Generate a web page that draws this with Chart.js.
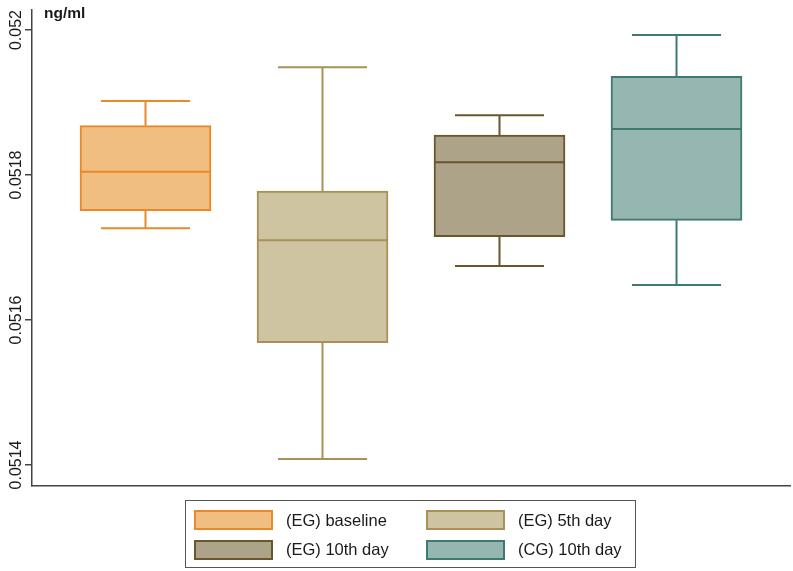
<!DOCTYPE html>
<html>
<head>
<meta charset="utf-8">
<script src="https://cdn.jsdelivr.net/npm/chart.js@4"></script>
<style>
  html, body { margin: 0; padding: 0; background: #fff; }
  #wrap { position: relative; width: 793px; height: 571px; font-family: "Liberation Sans", Arial, sans-serif; }
  #legend { position: absolute; left: 185px; top: 500px; width: 449px; height: 66px; border: 1px solid #555; box-sizing: content-box; }
  .item { position: absolute; display: flex; align-items: center; height: 20px; }
  .swatch { width: 75px; height: 16px; border: 2px solid; margin-right: 13px; }
  .item span { font-size: 16.5px; color: #1a1a1a; white-space: nowrap; }
</style>
</head>
<body>
<div id="wrap">
  <canvas id="boxChart" width="793" height="571"></canvas>
  <div id="legend"></div>
</div>
<script>
// groups and box plot values (ng/ml)
const categories = ['(EG) baseline', '(EG) 5th day', '(EG) 10th day', '(CG) 10th day'];
const whiskerLow = [0.0517265, 0.0514083, 0.0516745, 0.0516483];
const q1 = [0.0517508, 0.0515687, 0.0517149, 0.0517375];
const median = [0.0518046, 0.0517099, 0.0518175, 0.0518634];
const q3 = [0.0518680, 0.0517779, 0.0518552, 0.0519361];
const whiskerHigh = [0.0519021, 0.0519486, 0.0518823, 0.0519931];
const yTicks = [0.0514, 0.0516, 0.0518, 0.052];
const yTickLabels = ['0.0514', '0.0516', '0.0518', '0.052'];

const fillColors = ['rgb(240,190,128)', 'rgb(206,196,162)', 'rgb(173,163,137)', 'rgb(150,182,178)'];
const lineColors = ['rgb(234,137,42)', 'rgb(166,146,86)', 'rgb(105,86,44)', 'rgb(62,122,114)'];

const positions = categories.map((c, i) => i + 1);

// medians, whiskers, rotated y labels and unit title
const boxExtras = {
    id: 'boxExtras',
    afterDatasetsDraw(chart) {
        const ctx = chart.ctx;
        const y = chart.scales.y;
        const meta = chart.getDatasetMeta(0);
        meta.data.forEach((bar, i) => {
            const half = bar.width / 2;
            const cap = bar.width * 0.34;
            const top = y.getPixelForValue(q3[i]);
            const bot = y.getPixelForValue(q1[i]);
            const hi = y.getPixelForValue(whiskerHigh[i]);
            const lo = y.getPixelForValue(whiskerLow[i]);
            const med = y.getPixelForValue(median[i]);
            ctx.save();
            ctx.strokeStyle = lineColors[i];
            ctx.lineWidth = 2;
            ctx.beginPath();
            ctx.moveTo(bar.x - half, med); ctx.lineTo(bar.x + half, med);
            ctx.moveTo(bar.x, top); ctx.lineTo(bar.x, hi);
            ctx.moveTo(bar.x - cap, hi); ctx.lineTo(bar.x + cap, hi);
            ctx.moveTo(bar.x, bot); ctx.lineTo(bar.x, lo);
            ctx.moveTo(bar.x - cap, lo); ctx.lineTo(bar.x + cap, lo);
            ctx.stroke();
            ctx.restore();
        });
    },
    afterDraw(chart) {
        const ctx = chart.ctx;
        const y = chart.scales.y;
        ctx.save();
        ctx.fillStyle = '#1a1a1a';
        ctx.font = '16px "Liberation Sans", Arial, sans-serif';
        ctx.textAlign = 'center';
        ctx.textBaseline = 'middle';
        yTicks.forEach((v, i) => {
            ctx.save();
            ctx.translate(17, y.getPixelForValue(v));
            ctx.rotate(-Math.PI / 2);
            ctx.fillText(yTickLabels[i], 0, 0);
            ctx.restore();
        });
        ctx.font = 'bold 15.5px "Liberation Sans", Arial, sans-serif';
        ctx.textAlign = 'left';
        ctx.fillText('ng/ml', 44, 13.5);
        ctx.restore();
    }
};

const chart = new Chart(document.getElementById('boxChart'), {
    type: 'bar',
    data: {
        datasets: [{
            data: positions.map((p, i) => ({ x: p, y: [q1[i], q3[i]] })),
            backgroundColor: fillColors,
            borderColor: lineColors,
            borderWidth: 2,
            borderSkipped: false,
            barThickness: 131,
            grouped: false
        }]
    },
    options: {
        responsive: false,
        animation: false,
        layout: { padding: { top: 10, right: 3, bottom: 85, left: 0 } },
        plugins: {
            legend: { display: false },
            tooltip: { enabled: false }
        },
        scales: {
            x: {
                type: 'linear',
                offset: false,
                min: 0.3588,
                max: 4.6412,
                grid: { display: false },
                ticks: { display: false },
                border: { display: true, color: '#444', width: 1.5 },
                afterFit: s => { s.height = 0; }
            },
            y: {
                min: 0.051371,
                max: 0.0520276,
                grid: { display: true, drawOnChartArea: false, drawTicks: true, tickLength: 7, color: '#444', lineWidth: 1.5 },
                ticks: { display: false },
                border: { display: true, color: '#444', width: 1.5 },
                afterBuildTicks: s => { s.ticks = yTicks.map(v => ({ value: v })); },
                afterFit: s => { s.width = 32; }
            }
        }
    },
    plugins: [boxExtras]
});

// legend box in two columns
const legend = document.getElementById('legend');
categories.forEach((name, i) => {
    const item = document.createElement('div');
    item.className = 'item';
    item.style.left = (i % 2 === 0 ? 8 : 240) + 'px';
    item.style.top = (Math.floor(i / 2) === 0 ? 9 : 38.5) + 'px';
    const sw = document.createElement('div');
    sw.className = 'swatch';
    sw.style.background = fillColors[i];
    sw.style.borderColor = lineColors[i];
    const label = document.createElement('span');
    label.textContent = name;
    item.appendChild(sw);
    item.appendChild(label);
    legend.appendChild(item);
});
</script>
</body>
</html>
